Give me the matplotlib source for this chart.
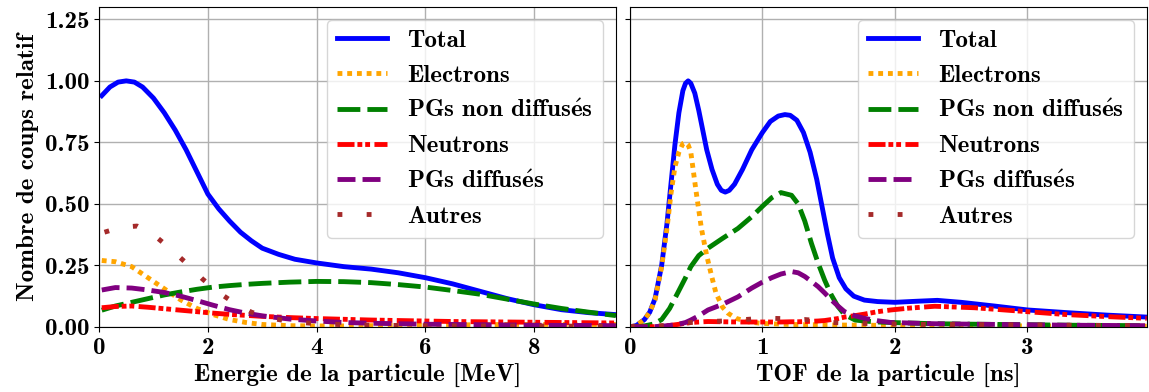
import matplotlib.pyplot as plt
import numpy as np

plt.rcParams['font.family'] = ['cmb10', 'DejaVu Serif']
plt.rcParams['font.weight'] = 'bold'
plt.rcParams['font.size'] = 18
plt.rcParams['mathtext.fontset'] = 'cm'
plt.rcParams['axes.unicode_minus'] = False

# Energie (MeV)
E_tot_x = [0.05, 0.2, 0.35, 0.5, 0.65, 0.8, 1.0, 1.2, 1.4, 1.6, 1.8, 2.0, 2.2, 2.4, 2.6, 2.8, 3.0, 3.3, 3.6,
           4.0, 4.5, 5.0, 5.5, 6.0, 6.5, 7.0, 7.5, 8.0, 8.5, 9.0, 9.5]
E_tot = [0.94, 0.975, 0.995, 1.0, 0.995, 0.975, 0.93, 0.87, 0.80, 0.72, 0.63, 0.54, 0.48, 0.43, 0.385, 0.35,
         0.32, 0.295, 0.275, 0.26, 0.245, 0.235, 0.22, 0.20, 0.175, 0.145, 0.115, 0.09, 0.07, 0.058, 0.05]
E_x = [0.05, 0.3, 0.6, 0.9, 1.2, 1.5, 1.8, 2.1, 2.4, 2.7, 3.0, 3.5, 4.0, 4.5, 5.0, 5.5, 6.0, 6.5, 7.0, 7.5,
       8.0, 8.5, 9.0, 9.5]
E_elec = [0.27, 0.265, 0.245, 0.20, 0.155, 0.11, 0.075, 0.05, 0.03, 0.018, 0.01, 0.005, 0.004, 0.004, 0.005,
          0.006, 0.007, 0.008, 0.009, 0.01, 0.01, 0.01, 0.01, 0.01]
E_pgnd = [0.068, 0.085, 0.10, 0.115, 0.13, 0.142, 0.153, 0.162, 0.168, 0.173, 0.177, 0.182, 0.185, 0.184,
          0.18, 0.172, 0.162, 0.148, 0.133, 0.113, 0.093, 0.075, 0.06, 0.046]
E_neut = [0.078, 0.083, 0.085, 0.08, 0.074, 0.068, 0.062, 0.056, 0.051, 0.047, 0.043, 0.038, 0.034, 0.031,
          0.028, 0.026, 0.024, 0.022, 0.021, 0.02, 0.019, 0.018, 0.017, 0.016]
E_pgd = [0.15, 0.16, 0.158, 0.15, 0.14, 0.125, 0.107, 0.088, 0.07, 0.056, 0.045, 0.032, 0.024, 0.018, 0.015,
         0.013, 0.011, 0.01, 0.009, 0.008, 0.007, 0.006, 0.006, 0.005]
E_aut_x = [0.1, 0.4, 0.7, 1.0, 1.3, 1.6, 1.9, 2.2, 2.5, 2.8, 3.1, 3.5, 4.0, 4.5, 5.0, 6.0, 7.0, 8.0, 9.0, 9.5]
E_aut = [0.385, 0.405, 0.41, 0.375, 0.32, 0.26, 0.195, 0.14, 0.095, 0.06, 0.038, 0.022, 0.013, 0.009, 0.007,
         0.005, 0.004, 0.004, 0.003, 0.003]

# TOF (ns)
T_tot_x = [0.0, 0.05, 0.11, 0.15, 0.19, 0.24, 0.28, 0.31, 0.34, 0.37, 0.40, 0.42, 0.44, 0.46, 0.49, 0.52, 0.55,
           0.58, 0.62, 0.66, 0.69, 0.72, 0.75, 0.79, 0.85, 0.92, 1.0, 1.06, 1.12, 1.17, 1.21, 1.26, 1.31, 1.36,
           1.41, 1.45, 1.49, 1.53, 1.58, 1.63, 1.69, 1.77, 1.87, 2.0, 2.15, 2.32, 2.5, 2.75, 3.0, 3.3, 3.6, 3.9]
T_tot = [0.0, 0.006, 0.03, 0.06, 0.115, 0.25, 0.42, 0.58, 0.74, 0.87, 0.96, 0.99, 1.0, 0.99, 0.95, 0.88, 0.80,
         0.72, 0.64, 0.58, 0.555, 0.548, 0.555, 0.58, 0.64, 0.72, 0.79, 0.835, 0.857, 0.863, 0.86, 0.84, 0.79,
         0.71, 0.6, 0.49, 0.38, 0.28, 0.2, 0.155, 0.125, 0.109, 0.103, 0.1, 0.104, 0.108, 0.1, 0.085, 0.069,
         0.058, 0.048, 0.04]
T_elec_x = [0.0, 0.05, 0.11, 0.15, 0.19, 0.24, 0.28, 0.31, 0.34, 0.37, 0.40, 0.42, 0.44, 0.46, 0.50, 0.54,
            0.58, 0.62, 0.65, 0.70, 0.74, 0.8, 0.9, 1.0, 1.2, 1.5, 2.0, 2.5, 3.0, 3.5, 3.9]
T_elec = [0.0, 0.006, 0.03, 0.06, 0.11, 0.245, 0.4, 0.54, 0.65, 0.71, 0.745, 0.75, 0.74, 0.71, 0.55, 0.40,
          0.29, 0.2, 0.137, 0.08, 0.056, 0.035, 0.02, 0.014, 0.01, 0.008, 0.006, 0.005, 0.004, 0.003, 0.003]
T_x = [0.0, 0.1, 0.18, 0.24, 0.3, 0.36, 0.42, 0.46, 0.52, 0.59, 0.7, 0.815, 0.92, 1.0, 1.07, 1.14, 1.22, 1.27,
       1.32, 1.37, 1.42, 1.47, 1.52, 1.57, 1.62, 1.7, 1.77, 1.87, 1.97, 2.1, 2.3, 2.6, 3.0, 3.3, 3.6, 3.9]
T_pgnd = [0.0, 0.003, 0.012, 0.03, 0.075, 0.137, 0.2, 0.245, 0.29, 0.32, 0.36, 0.40, 0.448, 0.49, 0.525, 0.546,
          0.535, 0.50, 0.43, 0.34, 0.26, 0.19, 0.13, 0.083, 0.05, 0.028, 0.024, 0.02, 0.018, 0.016, 0.013,
          0.011, 0.009, 0.007, 0.006, 0.005]
T_pgd = [0.0, 0.0, 0.001, 0.003, 0.006, 0.01, 0.018, 0.028, 0.045, 0.069, 0.092, 0.122, 0.158, 0.182, 0.2,
         0.215, 0.225, 0.22, 0.205, 0.185, 0.164, 0.138, 0.11, 0.085, 0.062, 0.045, 0.035, 0.025, 0.018, 0.016,
         0.013, 0.011, 0.009, 0.007, 0.006, 0.005]
T_neut = [0.0, 0.0, 0.001, 0.003, 0.006, 0.01, 0.015, 0.018, 0.02, 0.022, 0.021, 0.02, 0.02, 0.02, 0.02, 0.02,
          0.021, 0.021, 0.022, 0.023, 0.024, 0.026, 0.03, 0.034, 0.04, 0.046, 0.052, 0.062, 0.069, 0.076,
          0.084, 0.078, 0.062, 0.05, 0.042, 0.035]
T_aut = [0.0, 0.0, 0.002, 0.005, 0.008, 0.012, 0.015, 0.018, 0.02, 0.022, 0.024, 0.028, 0.032, 0.034, 0.035,
         0.034, 0.03, 0.028, 0.03, 0.028, 0.024, 0.02, 0.018, 0.017, 0.016, 0.015, 0.014, 0.013, 0.012, 0.011,
         0.01, 0.009, 0.008, 0.007, 0.006, 0.005]

labels = ['Total', 'Electrons', r'PGs non diffus$\mathbf{\acute{e}}$s', 'Neutrons',
          r'PGs diffus$\mathbf{\acute{e}}$s', 'Autres']
LW = 3.5

fig, (ax1, ax2) = plt.subplots(1, 2, sharey=True, figsize=(11.49, 3.92), dpi=100)
fig.subplots_adjust(left=0.0862, right=0.998, top=0.982, bottom=0.166, wspace=0.027)


def draw(ax, xt, yt, xe, ye, xs, g, n, p, xa, a):
    ax.plot(xt, yt, color='blue', lw=LW, label=labels[0])
    ax.plot(xe, ye, color='orange', lw=LW, dashes=(1, 1), label=labels[1])
    ax.plot(xs, g, color='green', lw=LW, dashes=(4.7, 1.45), label=labels[2])
    ax.plot(xs, n, color='red', lw=LW, dashes=(3.5, 0.6, 1, 0.6, 1, 0.9), label=labels[3])
    ax.plot(xs, p, color='purple', lw=LW, dashes=(3.7, 1.45), label=labels[4])
    ax.plot(xa, a, color='brown', lw=LW, dashes=(1, 5), label=labels[5])
    ax.grid(True, color='#b0b0b0', lw=1)
    ax.set_axisbelow(True)
    ax.legend(loc='upper right')


draw(ax1, E_tot_x, E_tot, E_x, E_elec, E_x, E_pgnd, E_neut, E_pgd, E_aut_x, E_aut)
draw(ax2, T_tot_x, T_tot, T_elec_x, T_elec, T_x, T_pgnd, T_neut, T_pgd, T_x, T_aut)

ax1.set_xlim(0, 9.5)
ax2.set_xlim(0, 3.9)
ax1.set_ylim(0, 1.3)
ax1.set_xticks([0, 2, 4, 6, 8])
ax2.set_xticks([0, 1, 2, 3])
ax1.set_yticks([0, 0.25, 0.5, 0.75, 1.0, 1.25])
ax1.set_xlabel('Energie de la particule [MeV]')
ax2.set_xlabel('TOF de la particule [ns]')
ax1.set_ylabel('Nombre de coups relatif')

fig.savefig('out.png')
